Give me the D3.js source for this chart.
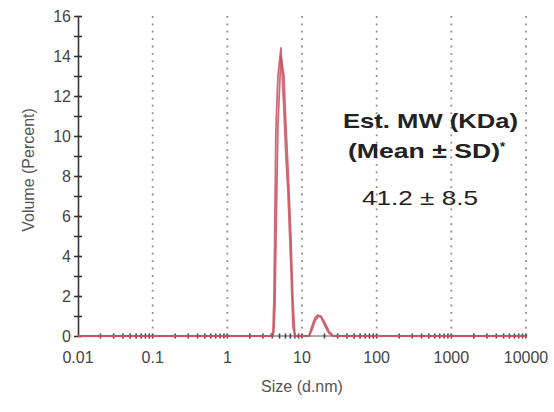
<!DOCTYPE html>
<html>
<head>
<meta charset="utf-8">
<script src="https://d3js.org/d3.v7.min.js"></script>
<style>
body { margin: 0; background: #fff; }
svg { display: block; font-family: Arial, "Liberation Sans", sans-serif; }
</style>
</head>
<body>
<div id="chart"></div>
<script>
var width = 554;
var height = 412;

// size bins (d.nm) and volume (%) for the two records
var sizes = [0.01, 3.72, 4.08, 4.21, 4.34, 4.47, 4.76, 5.22, 5.73, 6.09, 6.48, 7.10, 7.55, 8.04,
             12.4, 13.6, 14.9, 16.3, 17.9, 20.3, 22.9, 25.9, 10000];
var run1 = [0, 0, 0.2, 1.8, 6.0, 10.3, 13.0, 14.4, 11.3, 9.0, 7.2, 3.5, 0.5, 0,
            0, 0.5, 0.9, 1.05, 0.95, 0.5, 0.15, 0, 0];
var run2 = [0, 0, 0, 0.3, 1.5, 4.5, 10.5, 14.0, 13.0, 10.5, 8.5, 5.0, 1.8, 0,
            0, 0.3, 0.75, 0.95, 1.0, 0.65, 0.25, 0.02, 0];

var xTicks = [0.01, 0.1, 1, 10, 100, 1000, 10000];
var xTickLabels = ["0.01", "0.1", "1", "10", "100", "1000", "10000"];
var yTicks = [0, 2, 4, 6, 8, 10, 12, 14, 16];
var noteLines = ["Est. MW (KDa)", "(Mean \u00b1 SD)", "41.2 \u00b1 8.5"];

var svg = d3.select("#chart").append("svg")
    .attr("width", width)
    .attr("height", height);

var x = d3.scaleLog()
    .domain([0.01, 10000])
    .range([78, 526]);

var y = d3.scaleLinear()
    .domain([0, 16])
    .range([336, 16]);

// dotted gridlines at each decade
svg.selectAll(".grid")
    .data(xTicks.slice(1))
    .enter()
    .append("line")
        .attr("x1", function(d){ return x(d); })
        .attr("x2", function(d){ return x(d); })
        .attr("y1", y(16))
        .attr("y2", y(0))
        .attr("stroke", "#8a8a8a")
        .attr("stroke-width", 1.8)
        .attr("stroke-dasharray", "1.8,5.6");

// y axis with minor ticks on every unit
var yAxis = d3.axisLeft(y)
    .tickValues(d3.range(0, 17))
    .tickSize(0)
    .tickFormat("");
var yg = svg.append("g").attr("transform", "translate(" + x(0.01) + ",0)").call(yAxis);
yg.select(".domain").attr("stroke", "#333").attr("stroke-width", 1.6);
yg.selectAll(".tick line")
    .attr("x1", -4).attr("x2", 4)
    .attr("stroke", "#333").attr("stroke-width", 1.6);

svg.selectAll(".ylab")
    .data(yTicks)
    .enter()
    .append("text")
        .attr("x", 71)
        .attr("y", function(d){ return y(d) + 6; })
        .attr("text-anchor", "end")
        .attr("font-size", 16)
        .attr("fill", "#444")
        .text(function(d){ return d; });

// x axis line and log ticks
svg.append("line")
    .attr("x1", x(0.01)).attr("x2", x(10000))
    .attr("y1", y(0)).attr("y2", y(0))
    .attr("stroke", "#555").attr("stroke-width", 1);

var minor = [];
xTicks.slice(0, -1).forEach(function(d){
    for (var k = 2; k <= 9; k++) minor.push(d * k);
});
svg.selectAll(".xminor")
    .data(minor.concat(xTicks.slice(1)))
    .enter()
    .append("line")
        .attr("x1", function(d){ return x(d); })
        .attr("x2", function(d){ return x(d); })
        .attr("y1", y(0) - 2.5)
        .attr("y2", y(0) + 2.5)
        .attr("stroke", "#444")
        .attr("stroke-width", 1.6);

svg.selectAll(".xlab")
    .data(xTicks)
    .enter()
    .append("text")
        .attr("x", function(d){ return x(d); })
        .attr("y", 363)
        .attr("text-anchor", "middle")
        .attr("font-size", 16)
        .attr("fill", "#444")
        .text(function(d, i){ return xTickLabels[i]; });

// axis titles
svg.append("text")
    .attr("x", 302)
    .attr("y", 392)
    .attr("text-anchor", "middle")
    .attr("font-size", 16)
    .attr("fill", "#555")
    .text("Size (d.nm)");

svg.append("text")
    .attr("transform", "translate(34,170) rotate(-90)")
    .attr("text-anchor", "middle")
    .attr("font-size", 16)
    .attr("fill", "#555")
    .text("Volume (Percent)");

// size distribution lines
var line = d3.line()
    .x(function(d){ return x(d[0]); })
    .y(function(d){ return y(d[1]); });

[run2, run1].forEach(function(run){
    svg.append("path")
        .datum(sizes.map(function(s, i){ return [s, run[i]]; }))
        .attr("d", line)
        .attr("fill", "none")
        .attr("stroke", "#c9505e")
        .attr("stroke-width", 1.8)
        .attr("stroke-linejoin", "round")
        .attr("opacity", 0.85);
});

// annotation
svg.append("text")
    .attr("x", 343).attr("y", 128)
    .attr("font-size", 21).attr("font-weight", "bold").attr("fill", "#222")
    .attr("textLength", 175).attr("lengthAdjust", "spacingAndGlyphs")
    .text(noteLines[0]);

var l2 = svg.append("text")
    .attr("x", 348).attr("y", 158)
    .attr("font-size", 21).attr("font-weight", "bold").attr("fill", "#222");
l2.append("tspan").attr("textLength", 152).attr("lengthAdjust", "spacingAndGlyphs").text(noteLines[1]);
l2.append("tspan").attr("font-size", 13).attr("dy", -7).text("*");

svg.append("text")
    .attr("x", 362).attr("y", 205)
    .attr("font-size", 21).attr("fill", "#222")
    .attr("textLength", 116).attr("lengthAdjust", "spacingAndGlyphs")
    .text(noteLines[2]);
</script>
</body>
</html>
